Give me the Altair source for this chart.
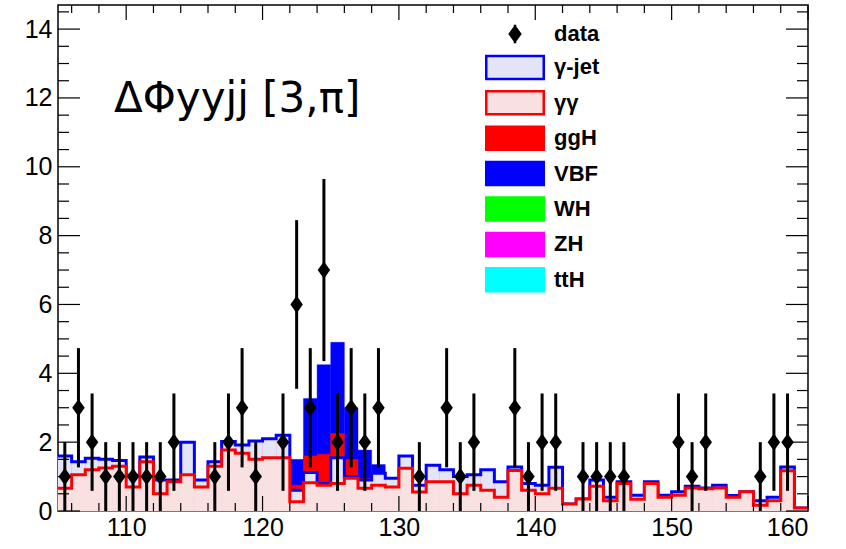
import altair as alt
import numpy as np
import pandas as pd

# ---------------- data ----------------
x_min, x_max = 105, 160
bin_lo = list(range(105, 160))          # 1 GeV bins, lower edges

data_counts = [1, 3, 2, 1, 1, 1, 1, 1, 2, 0,
               0, 1, 2, 3, 1, 0, 2, 6, 3, 7,
               2, 3, 2, 3, 0, 0, 1, 0, 3, 1,
               2, 0, 0, 3, 1, 2, 2, 0, 1, 1,
               1, 1, 0, 0, 0, 2, 1, 2, 0, 0,
               0, 1, 2, 2, 0]

gamma_gamma = [0.66, 1.05, 1.20, 1.25, 1.30, 0.70, 1.43, 0.50, 0.85, 1.05,
               0.70, 1.30, 1.77, 1.68, 1.50, 1.55, 1.55, 0.27, 0.82, 0.75,
               0.80, 0.95, 0.66, 0.75, 0.70, 1.24, 0.55, 0.85, 0.85, 0.50,
               0.75, 0.60, 0.40, 1.18, 0.60, 0.50, 0.66, 0.20, 0.35, 0.72,
               0.30, 0.80, 0.34, 0.80, 0.40, 0.46, 0.67, 0.65, 0.67, 0.40,
               0.56, 0.17, 0.30, 1.17, 0.09]

gamma_jet = [0.94, 0.38, 0.33, 0.25, 0.17, 0.34, 0.14, 0.40, 0.05, 0.95,
             0.20, 0.13, 0.25, 0.24, 0.53, 0.55, 0.65, 0.33, 0.30, 0.05,
             0.75, 0.05, 0.24, 0.35, 0.25, 0.36, 0.20, 0.48, 0.35, 0.50,
             0.30, 0.60, 0.45, 0.10, 0.20, 0.25, 0.61, 0.00, 0.00, 0.18,
             0.10, 0.05, 0.12, 0.05, 0.06, 0.10, 0.05, 0.02, 0.08, 0.05,
             0.00, 0.13, 0.10, 0.11, 0.00]

ggH = [0, 0, 0, 0, 0, 0, 0, 0, 0, 0,
       0, 0, 0, 0, 0, 0, 0, 0.15, 0.48, 0.85,
       0.70, 0.50, 0.05, 0.02, 0, 0, 0, 0, 0, 0,
       0, 0, 0, 0, 0, 0, 0, 0, 0, 0,
       0, 0, 0, 0, 0, 0, 0, 0, 0, 0,
       0, 0, 0, 0, 0]

VBF = [0, 0, 0, 0, 0, 0, 0, 0, 0, 0,
       0, 0, 0, 0, 0, 0, 0, 0.75, 1.67, 2.60,
       2.65, 1.50, 0.82, 0.23, 0, 0, 0, 0, 0, 0,
       0, 0, 0, 0, 0, 0, 0, 0, 0, 0,
       0, 0, 0, 0, 0, 0, 0, 0, 0, 0,
       0, 0, 0, 0, 0]

x_tick_labels = [110, 120, 130, 140, 150, 160]
y_tick_labels = [0, 2, 4, 6, 8, 10, 12, 14]
x_minor_ticks = [v for v in range(106, 160, 2) if v % 10 != 0]
y_minor_ticks = [v / 2 for v in range(0, 30) if v % 4 != 0]

legend_names = ["data", "γ-jet", "γγ", "ggH", "VBF", "WH", "ZH", "ttH"]
legend_fill = ["#000000", "#e4e4f7", "#f9e1e1", "#ff0000", "#0000ff", "#00ff00", "#ff00ff", "#00ffff"]
legend_stroke = ["#000000", "#0000ff", "#ff0000", "#ff0000", "#0000ff", "#00ff00", "#ff00ff", "#00ffff"]
label_text = "ΔΦyyjj [3,π]"

# ---------------- derived tables ----------------
W, H = 750, 506
Y_MAX = 14.7
lo = np.array(bin_lo, dtype=float)
hi = lo + 1
gg_top = np.array(gamma_gamma)
gj_top = gg_top + np.array(gamma_jet)
ggh_top = gj_top + np.array(ggH)
vbf_top = ggh_top + np.array(VBF)

hist = pd.DataFrame({"lo": lo, "hi": hi, "zero": 0.0, "gg": gg_top, "gj": gj_top,
                     "ggh": ggh_top, "vbf": vbf_top})

def step_df(vals):
    xs_ = list(lo) + [float(x_max)]
    ys_ = list(vals) + [float(vals[-1])]
    return pd.DataFrame({"x": xs_, "y": ys_})

cnt = np.array(data_counts, dtype=float)
pts = pd.DataFrame({"c": lo + 0.5, "n": cnt, "elo": cnt - np.sqrt(cnt), "ehi": cnt + np.sqrt(cnt)})
pts = pts[pts.n > 0]

FONT = "Liberation Sans"
xs = alt.Scale(domain=[x_min, x_max], nice=False, zero=False)
ys = alt.Scale(domain=[0, Y_MAX], nice=False)
xax = alt.Axis(values=x_tick_labels, title=None, ticks=False, domain=False, grid=False,
               labelFont=FONT, labelFontSize=25, labelColor="black", labelPadding=4,
               format="d")
yax = alt.Axis(values=y_tick_labels, title=None, ticks=False, domain=False, grid=False,
               labelFont=FONT, labelFontSize=25, labelColor="black", labelPadding=6,
               format="d")

def X(f):
    return alt.X(f, scale=xs, axis=xax)

def Y(f):
    return alt.Y(f, scale=ys, axis=yax)

base = alt.Chart(hist)

def rect_layer(col, color):
    return base.mark_rect(color=color, stroke=color, strokeWidth=0.4).encode(
        x=X("lo:Q"), x2="hi:Q", y=Y(f"{col}:Q"), y2="zero:Q",
    )

vbf_rect = rect_layer("vbf", "#0000ff")
ggh_rect = rect_layer("ggh", "#ff0000")
gj_rect = rect_layer("gj", "#e4e4f7")
gg_rect = rect_layer("gg", "#f9e1e1")

def step_layer(vals, color):
    return alt.Chart(step_df(vals)).mark_line(color=color, strokeWidth=3, interpolate="step-after", clip=True).encode(
        x=X("x:Q"), y=Y("y:Q"),
    )

gj_line = step_layer(gj_top, "#0000ff")
gg_line = step_layer(gg_top, "#ff0000")

err = alt.Chart(pts).mark_rule(color="black", strokeWidth=3).encode(
    x=X("c:Q"), y=Y("elo:Q"), y2="ehi:Q",
)
marker = alt.Chart(pts).mark_point(shape="M0,-1L0.72,0L0,1L-0.72,0Z", filled=True, size=300,
                                   color="black", opacity=1).encode(
    x=X("c:Q"), y=Y("n:Q"),
)

# ticks (inward, on all four sides)
def xticks(vals, length):
    d = pd.DataFrame({"v": vals})
    bot = alt.Chart(d).mark_rule(color="black", strokeWidth=1.2).encode(
        x=X("v:Q"), y=alt.value(H), y2=alt.value(H - length))
    top = alt.Chart(d).mark_rule(color="black", strokeWidth=1.2).encode(
        x=X("v:Q"), y=alt.value(0), y2=alt.value(length))
    return bot + top

def yticks(vals, length):
    d = pd.DataFrame({"v": vals})
    left = alt.Chart(d).mark_rule(color="black", strokeWidth=1.2).encode(
        y=Y("v:Q"), x=alt.value(0), x2=alt.value(length))
    right = alt.Chart(d).mark_rule(color="black", strokeWidth=1.2).encode(
        y=Y("v:Q"), x=alt.value(W), x2=alt.value(W - length))
    return left + right

ticks = xticks(x_tick_labels, 15) + xticks(x_minor_ticks, 8) + yticks(y_tick_labels, 22) + yticks(y_minor_ticks, 11)

label = alt.Chart(pd.DataFrame({"t": [label_text]})).mark_text(
    font="DejaVu Sans", fontSize=42, align="left", baseline="alphabetic", color="black"
).encode(text="t:N", x=alt.value(56), y=alt.value(107))

# legend (dummy off-screen marks feeding a merged legend)
sym_paths = ["M0,-0.8V0.8M-0.45,0L0,-0.62L0.45,0L0,0.62Z"] + ["M-2.5,-1H2.5V1H-2.5Z"] * 7
leg_df = pd.DataFrame({"name": legend_names})
leg = alt.Chart(leg_df).mark_point(filled=True, opacity=1, clip=True).encode(
    x=alt.value(-500), y=alt.value(-500),
    shape=alt.Shape("name:N", scale=alt.Scale(domain=legend_names, range=sym_paths), title=None),
    fill=alt.Fill("name:N", scale=alt.Scale(domain=legend_names, range=legend_fill), title=None),
    stroke=alt.Stroke("name:N", scale=alt.Scale(domain=legend_names, range=legend_stroke), title=None),
)

chart = alt.layer(
    vbf_rect, ggh_rect, gj_rect, gj_line, gg_rect, gg_line, err, marker, ticks, label, leg
).properties(
    width=W, height=H,
    padding={"left": 58, "top": 5, "right": 38, "bottom": 38},
    autosize=alt.AutoSizeParams(type="none"),
).configure_view(
    stroke="black", strokeWidth=1.5
).configure_legend(
    orient="none", legendX=444, legendY=16, padding=0,
    symbolSize=529, symbolStrokeWidth=2.5,
    labelFont=FONT, labelFontSize=22, labelFontWeight="bold", labelColor="black",
    labelOffset=26, rowPadding=1.4, labelLimit=200,
)

chart.save("out.html", embed_options={"renderer": "svg", "actions": False})
